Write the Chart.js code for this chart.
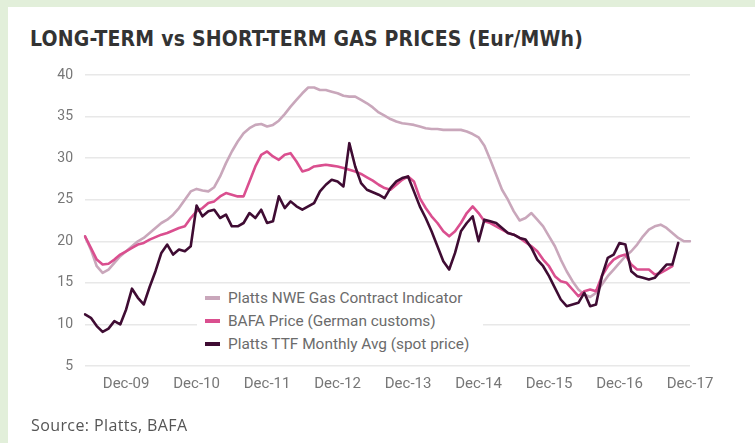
<!DOCTYPE html>
<html>
<head>
<meta charset="utf-8">
<script src="https://cdn.jsdelivr.net/npm/chart.js@4.4.1/dist/chart.umd.min.js"></script>
<style>
  html, body { margin: 0; padding: 0; }
  body { width: 755px; height: 443px; background: #e2efda; position: relative; overflow: hidden; }
  #card { position: absolute; left: 8px; top: 7px; width: 747px; height: 436px; background: #fff; }
  #title { position: absolute; left: 30px; top: 27px; font: bold 21px "DejaVu Sans Condensed", sans-serif; color: #333; white-space: nowrap; letter-spacing: 0.2px; }
  #source { position: absolute; left: 31px; top: 414px; font: 16px "Open Sans", sans-serif; color: #555; letter-spacing: 0.4px; white-space: nowrap; }
  #wrap { position: absolute; left: 0; top: 0; width: 755px; height: 443px; }
  #legend { position: absolute; left: 197px; top: 287px; width: 286px; height: 74px; background: #fff; font: 15.4px Roboto, sans-serif; color: #6b6b6b; }
  #legend div { height: 23px; line-height: 23px; white-space: nowrap; }
  #legend span { display: inline-block; width: 15px; height: 4px; vertical-align: middle; margin: 0 8px 0 8px; position: relative; top: -1px; }
</style>
</head>
<body>
<div id="card"></div>
<div id="title">LONG-TERM vs SHORT-TERM GAS PRICES (Eur/MWh)</div>
<div id="wrap"><canvas id="chart" width="755" height="443"></canvas></div>
<div id="legend"></div>
<div id="source">Source: Platts, BAFA</div>
<script>
// monthly categories, May-09 .. Dec-17
const months = [
  'May-09','Jun-09','Jul-09','Aug-09','Sep-09','Oct-09','Nov-09','Dec-09',
  'Jan-10','Feb-10','Mar-10','Apr-10','May-10','Jun-10','Jul-10','Aug-10','Sep-10','Oct-10','Nov-10','Dec-10',
  'Jan-11','Feb-11','Mar-11','Apr-11','May-11','Jun-11','Jul-11','Aug-11','Sep-11','Oct-11','Nov-11','Dec-11',
  'Jan-12','Feb-12','Mar-12','Apr-12','May-12','Jun-12','Jul-12','Aug-12','Sep-12','Oct-12','Nov-12','Dec-12',
  'Jan-13','Feb-13','Mar-13','Apr-13','May-13','Jun-13','Jul-13','Aug-13','Sep-13','Oct-13','Nov-13','Dec-13',
  'Jan-14','Feb-14','Mar-14','Apr-14','May-14','Jun-14','Jul-14','Aug-14','Sep-14','Oct-14','Nov-14','Dec-14',
  'Jan-15','Feb-15','Mar-15','Apr-15','May-15','Jun-15','Jul-15','Aug-15','Sep-15','Oct-15','Nov-15','Dec-15',
  'Jan-16','Feb-16','Mar-16','Apr-16','May-16','Jun-16','Jul-16','Aug-16','Sep-16','Oct-16','Nov-16','Dec-16',
  'Jan-17','Feb-17','Mar-17','Apr-17','May-17','Jun-17','Jul-17','Aug-17','Sep-17','Oct-17','Nov-17','Dec-17'
];

const nweValues = [
  20.6, 19.0, 17.0, 16.2, 16.6, 17.4, 18.2, 18.8,
  19.4, 20.0, 20.4, 21.0, 21.6, 22.2, 22.6, 23.2, 24.0, 25.0, 26.0, 26.3,
  26.1, 26.0, 26.5, 27.8, 29.4, 30.8, 32.0, 33.0, 33.6, 34.0, 34.1, 33.8,
  34.0, 34.5, 35.3, 36.2, 37.0, 37.8, 38.5, 38.5, 38.2, 38.2, 38.0, 37.8,
  37.5, 37.4, 37.4, 37.0, 36.6, 36.1, 35.5, 35.1, 34.7, 34.4, 34.2, 34.1,
  34.0, 33.8, 33.6, 33.5, 33.5, 33.4, 33.4, 33.4, 33.4, 33.2, 32.9, 32.5,
  31.5, 29.8, 28.0, 26.2, 25.0, 23.6, 22.5, 22.8, 23.4, 22.6, 21.8, 20.6,
  19.4, 17.8, 16.4, 15.2, 14.2, 13.6, 13.3, 13.8, 14.8, 15.8, 16.6, 17.4,
  18.2, 18.8, 19.6, 20.6, 21.4, 21.8, 22.0, 21.6, 21.0, 20.4, 20.0, 20.0
];

const bafaValues = [
  20.6, 19.2, 17.8, 17.2, 17.3, 17.8, 18.4, 18.8,
  19.2, 19.6, 19.8, 20.2, 20.5, 20.8, 21.0, 21.3, 21.6, 21.8, 22.8, 23.6,
  24.0, 24.6, 24.8, 25.4, 25.8, 25.6, 25.4, 25.4, 27.2, 29.0, 30.4, 30.8,
  30.2, 29.8, 30.4, 30.6, 29.6, 28.4, 28.6, 29.0, 29.1, 29.2, 29.1, 29.0,
  28.8, 28.6, 28.4, 28.1, 27.7, 27.3, 26.8, 26.4, 26.2, 26.8, 27.4, 27.8,
  27.2, 25.2, 24.0, 23.0, 22.2, 21.2, 20.6, 21.2, 22.2, 23.4, 24.2, 23.4,
  22.4, 22.2, 21.8, 21.4, 21.0, 20.8, 20.4, 19.9, 19.4, 18.8, 17.8, 17.0,
  15.8, 15.2, 15.0, 14.2, 13.4, 14.0, 14.2, 14.0, 15.8, 17.0, 17.8, 18.2,
  18.4, 17.2, 16.6, 16.6, 16.6, 16.0, 16.2, 16.6, 17.0, null, null, null
];

const ttfValues = [
  11.2, 10.8, 9.8, 9.1, 9.5, 10.4, 10.0, 11.8,
  14.3, 13.2, 12.4, 14.5, 16.4, 18.6, 19.6, 18.4, 19.0, 18.8, 19.4, 24.3,
  23.0, 23.6, 23.8, 22.8, 23.2, 21.8, 21.8, 22.2, 23.4, 22.8, 23.8, 22.2,
  22.4, 25.4, 24.0, 24.8, 24.2, 23.8, 24.2, 24.6, 26.0, 26.8, 27.4, 27.2,
  26.6, 31.8, 29.0, 27.0, 26.2, 25.9, 25.6, 25.2, 26.4, 27.2, 27.6, 27.8,
  26.0, 24.2, 22.8, 21.2, 19.4, 17.6, 16.6, 18.6, 21.2, 22.2, 23.0, 20.0,
  22.6, 22.4, 22.2, 21.6, 21.0, 20.8, 20.4, 20.2, 19.2, 17.8, 17.0, 15.8,
  14.4, 13.0, 12.2, 12.4, 12.6, 13.8, 12.2, 12.4, 15.8, 18.0, 18.4, 19.8,
  19.6, 16.4, 15.8, 15.6, 15.4, 15.6, 16.4, 17.2, 17.2, 19.8, null, null
];

const yTicks = [5, 10, 15, 20, 25, 30, 35, 40];

const seriesNames = [
  'Platts NWE Gas Contract Indicator',
  'BAFA Price (German customs)',
  'Platts TTF Monthly Avg (spot price)'
];
const seriesColors = ['#c9a7bb', '#da4f8f', '#3f0c33'];

function buildLegend() {
    const box = document.getElementById('legend');
    box.innerHTML = '';
    for (let i = 0; i < seriesNames.length; i++) {
        const row = document.createElement('div');
        row.innerHTML = `<span style="background:${seriesColors[i]}"></span>${seriesNames[i]}`;
        box.appendChild(row);
    }
}

const ctx = document.getElementById('chart').getContext('2d');
const chart = new Chart(ctx, {
    type: 'line',
    data: {
        labels: months,
        datasets: [
            { label: seriesNames[0], data: nweValues, borderColor: seriesColors[0], order: 2 },
            { label: seriesNames[1], data: bafaValues, borderColor: seriesColors[1], order: 1 },
            { label: seriesNames[2], data: ttfValues, borderColor: seriesColors[2], order: 0 }
        ]
    },
    options: {
        responsive: false,
        animation: false,
        layout: { padding: { left: 0, top: 75, right: 65, bottom: 47 } },
        elements: {
            line: { borderWidth: 2.6, tension: 0, borderCapStyle: 'round', borderJoinStyle: 'round' },
            point: { radius: 0 }
        },
        plugins: { legend: { display: false }, tooltip: { enabled: false } },
        scales: {
            x: {
                offset: false,
                grid: { display: false, drawTicks: false },
                border: { display: false },
                afterFit: (scale) => { scale.height = 30; },
                ticks: {
                    autoSkip: false,
                    maxRotation: 0,
                    padding: 9,
                    color: '#777',
                    font: { family: 'Roboto', size: 15 },
                    callback: function (value) {
                        const lab = this.getLabelForValue(value);
                        return lab.startsWith('Dec') ? lab : '';
                    }
                }
            },
            y: {
                min: yTicks[0],
                max: yTicks[yTicks.length - 1],
                afterFit: (scale) => { scale.width = 85; },
                afterBuildTicks: (scale) => { scale.ticks = yTicks.map(v => ({ value: v })); },
                grid: { color: '#e8e8e8', lineWidth: 1.5, drawTicks: false },
                border: { display: false },
                ticks: {
                    padding: 12,
                    color: '#777',
                    font: { family: 'Roboto', size: 14 }
                }
            }
        }
    }
});

buildLegend();
</script>
</body>
</html>
